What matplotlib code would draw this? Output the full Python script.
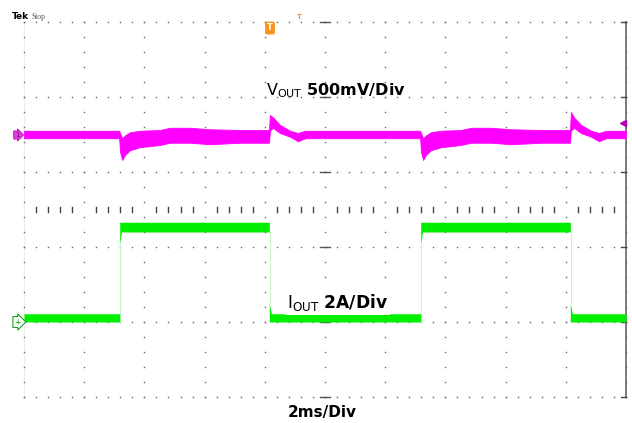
import matplotlib
matplotlib.use("Agg")
import matplotlib.pyplot as plt
import numpy as np

# time in ms (2 ms/div, 10 div), levels in screen divisions (0 = bottom row)
vout_t = [0.00, 3.16, 3.19, 3.26, 3.36, 3.52, 3.85, 4.52, 4.85, 5.51, 6.18, 7.18, 8.14,
          8.17, 8.27, 8.50, 8.84, 9.10, 9.34, 13.16, 13.19, 13.26, 13.36, 13.52, 13.85,
          14.52, 14.85, 15.51, 16.18, 17.18, 18.14, 18.17, 18.27, 18.50, 18.84, 19.10,
          19.34, 20.00]
vout_hi = [3.55, 3.55, 3.52, 3.45, 3.49, 3.53, 3.55, 3.56, 3.59, 3.59, 3.57, 3.56, 3.56,
           3.76, 3.73, 3.63, 3.55, 3.52, 3.55, 3.55, 3.52, 3.45, 3.49, 3.53, 3.55,
           3.56, 3.59, 3.59, 3.57, 3.56, 3.56, 3.80, 3.73, 3.63, 3.55, 3.52,
           3.55, 3.55]
vout_lo = [3.45, 3.45, 3.27, 3.16, 3.23, 3.29, 3.33, 3.36, 3.39, 3.39, 3.37, 3.39, 3.39,
           3.55, 3.59, 3.52, 3.47, 3.41, 3.45, 3.45, 3.27, 3.16, 3.23, 3.29, 3.33,
           3.36, 3.39, 3.39, 3.37, 3.39, 3.39, 3.55, 3.59, 3.52, 3.47, 3.41,
           3.45, 3.45]

iout_t = [0.00, 3.18, 3.18, 3.24, 8.15, 8.15, 8.22, 13.18, 13.18, 13.24, 18.15, 18.15,
          18.22, 20.00]
iout_hi = [1.11, 1.11, 2.33, 2.33, 2.33, 1.25, 1.11, 1.11, 2.33, 2.33, 2.33, 1.25,
           1.11, 1.11]
iout_lo = [1.00, 1.00, 2.03, 2.20, 2.20, 1.00, 1.00, 1.00, 2.03, 2.20, 2.20, 1.00,
           1.00, 1.00]
# faint vertical edges of the current steps
edge_t = [3.18, 8.16, 13.18, 18.16]
edge_from = [1.00, 2.20, 1.00, 2.20]
edge_to = [2.03, 1.25, 2.03, 1.25]

MAGENTA = "#ff00ff"
GREEN = "#00ee00"
ORANGE = "#f7941d"
W, H = 632, 423

plt.rcParams["mathtext.fontset"] = "dejavusans"


def px(x, y):
    return x / W, 1 - y / H


fig = plt.figure(figsize=(W / 100, H / 100), dpi=100)
ax = fig.add_axes([24 / W, 26 / H, 602 / W, 375 / H])
ax.set_xlim(0, 20)
ax.set_ylim(0, 5)
ax.axis("off")

# graticule dots
dot = dict(ls="none", marker="s", ms=1.0, mew=0, color="#666666", clip_on=False)
xs = np.arange(0, 20.01, 0.4)
ys = np.arange(0, 5.01, 0.2)
for r in range(6):
    ax.plot(xs, np.full_like(xs, r), **dot)
for c in range(0, 21, 2):
    ax.plot(np.full_like(ys, c), ys, **dot)
# centre row tick marks (between the major columns)
for x in xs:
    if abs(x / 2 - round(x / 2)) > 0.01:
        ax.plot([x, x], [2.5 - 0.035, 2.5 + 0.035], color="#444444", lw=1.0,
                clip_on=False)
# centre column dashes at rows
for r in range(6):
    ax.plot([9.85, 10.15], [r, r], color="#555555", lw=1.0, clip_on=False)
# right border with ticks
ax.plot([20, 20], [0, 5], color="#666666", lw=1.2, clip_on=False)
for r in range(6):
    ax.plot([19.85, 20], [r, r], color="#444444", lw=1.0, clip_on=False)
ax.plot([0, 0], [0, 5], color="#eeeeee", lw=0.8, zorder=0)

# traces
ax.fill_between(vout_t, vout_lo, vout_hi, color=MAGENTA, lw=0.6, edgecolor=MAGENTA,
                zorder=3)
for t, a, b in zip(edge_t, edge_from, edge_to):
    ax.plot([t, t], [a, b], color="#c6f5c6", lw=0.8, zorder=2)
ax.fill_between(iout_t, iout_lo, iout_hi, color=GREEN, lw=0, zorder=3)

# trigger level marker on the right
ax.plot([19.9], [3.65], marker="<", ms=4, color="#b000b0", clip_on=False, zorder=4)

# labels
fig.text(*px(266, 95), r"$\mathregular{V_{OUT}}\ \mathbf{500mV/Div}$", fontsize=11.5,
         va="baseline")
fig.text(*px(287, 308), r"$\mathregular{I_{OUT}}\ \mathbf{2A/Div}$", fontsize=12.3,
         va="baseline", zorder=5,
         bbox=dict(facecolor="white", edgecolor="none", pad=1.5))
fig.text(*px(322, 417), "2ms/Div", fontsize=11, fontweight="bold", va="baseline",
         ha="center", family="DejaVu Sans")

fig.text(*px(12, 19), "Tek", fontsize=6.5, fontweight="bold", va="baseline",
         family="DejaVu Sans")
fig.text(*px(31, 19), "Stop", fontsize=5.5, va="baseline", color="#555555",
         family="Liberation Serif")

# channel markers
fig.text(*px(17, 135), "1", fontsize=5, ha="center", va="center", color="#7a007a",
         bbox=dict(boxstyle="rarrow,pad=0.15", facecolor="#e040e0", edgecolor="#c000c0",
                   lw=0.6))
fig.text(*px(17, 322), "+", fontsize=5.5, ha="center", va="center", color="#009900",
         bbox=dict(boxstyle="rarrow,pad=0.12", facecolor="white", edgecolor="#009900",
                   lw=0.7))
# trigger position markers
fig.text(*px(270, 28), "T", fontsize=6, fontweight="bold", ha="center", va="center",
         color="white",
         bbox=dict(boxstyle="round,pad=0.15", facecolor=ORANGE, edgecolor=ORANGE))
fig.text(*px(299, 17), "T", fontsize=5, fontweight="bold", ha="center", va="center",
         color=ORANGE)

fig.savefig("out.png", dpi=100)
